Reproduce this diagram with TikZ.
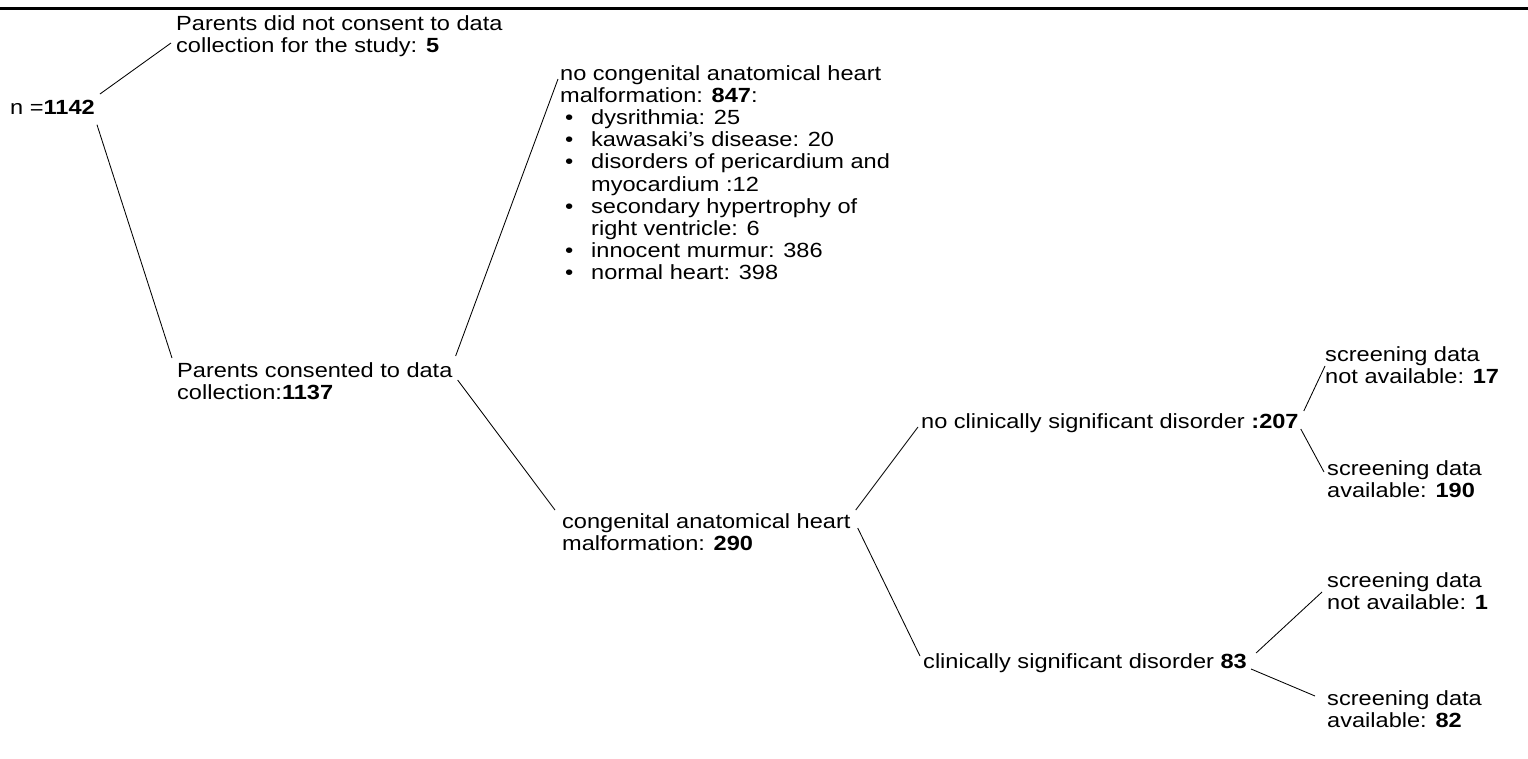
\documentclass[tikz,border=0pt]{standalone}
\usepackage{fontspec}
\setmainfont{Liberation Sans}[FakeStretch=1.15]
\usetikzlibrary{calc}
\tikzset{
  lbl/.style={anchor=north west, inner sep=0pt, align=left, font=\fontsize{20.5}{22.5}\selectfont},
  listlbl/.style={lbl, font=\fontsize{20.5}{22.2}\selectfont},
  conn/.style={line width=0.85pt, black},
  rulebar/.style={line width=3pt, black}
}
\newcommand{\blt}{\makebox[31pt][l]{\hspace{5pt}\textbullet}}
\newcommand{\bind}{\hspace*{31pt}}
\begin{document}
\begin{tikzpicture}[x=1pt,y=-1pt]
\useasboundingbox (0,0) rectangle (1528,758);
\coordinate (RL) at (0,8);
\coordinate (RR) at (1528,8);
\draw[rulebar] (RL) -- (RR);

\node[lbl] (A) at (10,100) {n =\textbf{1142}};
\node[lbl] (B) at (176,15) {Parents did not consent to data\\collection for the study: \textbf{5}};
\node[lbl] (C) at (177,362) {Parents consented to data\\collection:\textbf{1137}};
\node[listlbl] (D) at (560,65) {no congenital anatomical heart\\
malformation: \textbf{847}:\\
\blt dysrithmia: 25\\
\blt kawasaki's disease: 20\\
\blt disorders of pericardium and\\
\bind myocardium :12\\
\blt secondary hypertrophy of\\
\bind right ventricle: 6\\
\blt innocent murmur: 386\\
\blt normal heart: 398};
\node[lbl] (E) at (562,513) {congenital anatomical heart\\malformation: \textbf{290}};
\node[lbl] (F) at (921,413) {no clinically significant disorder \textbf{:207}};
\node[lbl] (G) at (923,653) {clinically significant disorder \textbf{83}};
\node[lbl] (H) at (1325,346) {screening data\\not available: \textbf{17}};
\node[lbl] (I) at (1327,460) {screening data\\available: \textbf{190}};
\node[lbl] (J) at (1327,572) {screening data\\not available: \textbf{1}};
\node[lbl] (K) at (1327,690) {screening data\\available: \textbf{82}};

\draw[conn] ([shift={(5,-6)}]A.north east) -- ([shift={(-5,28)}]B.north west);
\draw[conn] ([shift={(2,10)}]A.south east) -- ([shift={(-5,-4)}]C.north west);
\draw[conn] ([shift={(3,-6)}]C.north east) -- ([shift={(-2,14)}]D.north west);
\draw[conn] ([shift={(5,18)}]C.north east) -- ([shift={(-7,-3)}]E.north west);
\draw[conn] ([shift={(5,-3)}]E.north east) -- ([shift={(-3,14)}]F.north west);
\draw[conn] ([shift={(7,15)}]E.north east) -- ([shift={(-3,3)}]G.north west);
\draw[conn] ([shift={(5,-2)}]F.north east) -- ([shift={(0,20)}]H.north west);
\draw[conn] ([shift={(2,16)}]F.north east) -- ([shift={(-3,12)}]I.north west);
\draw[conn] ([shift={(9,0)}]G.north east) -- ([shift={(-5,20)}]J.north west);
\draw[conn] ([shift={(4,16)}]G.north east) -- ([shift={(-12,6)}]K.north west);
\end{tikzpicture}
\end{document}
